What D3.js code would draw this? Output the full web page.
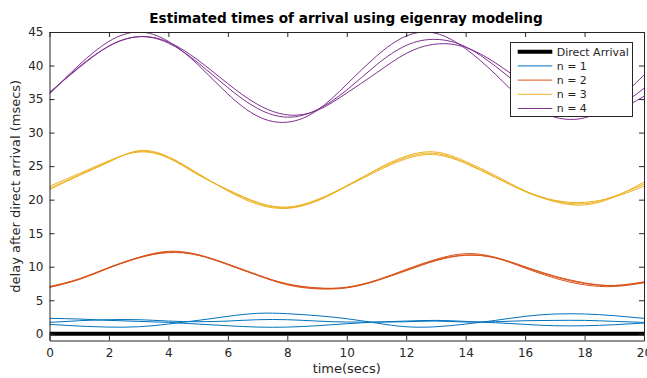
<!DOCTYPE html>
<html>
<head>
<meta charset="utf-8">
<script src="https://cdn.jsdelivr.net/npm/d3@7"></script>
<style>
  body { margin: 0; background: #fff; }
  svg { display: block; font-family: 'DejaVu Sans', sans-serif; }
</style>
</head>
<body>
<div class="chart"></div>
<script>
// sample times (secs)
const time = [0, 1, 2, 3, 4, 5, 6, 7, 8, 9, 10, 11, 12, 13, 14, 15, 16, 17, 18, 19, 20];

const directArrival = time.map(() => 0);

// n = 1 eigenrays
const n1a = [1.4, 1.15, 1.0, 1.05, 1.45, 2.0, 2.6, 3.05, 3.0, 2.7, 2.25, 1.6, 1.05, 1.05, 1.45, 2.0, 2.6, 2.95, 2.95, 2.7, 2.3];
const n1b = [2.3, 2.2, 2.0, 1.85, 1.7, 1.45, 1.2, 1.0, 1.0, 1.2, 1.5, 1.75, 1.9, 2.0, 1.85, 1.65, 1.4, 1.2, 1.2, 1.35, 1.6];
const n1c = [1.7, 1.95, 2.1, 2.1, 1.9, 1.8, 1.9, 2.1, 2.1, 1.9, 1.75, 1.75, 1.8, 1.9, 1.75, 1.8, 1.95, 2.0, 2.0, 1.85, 1.7];

// n = 2 eigenrays
const n2a = [7.0, 8.2, 9.9, 11.4, 12.3, 11.8, 10.4, 8.8, 7.4, 6.8, 6.95, 8.0, 9.6, 11.1, 11.95, 11.4, 9.9, 8.5, 7.5, 7.2, 7.7];
const n2b = [6.9, 8.1, 9.8, 11.3, 12.1, 11.7, 10.3, 8.7, 7.3, 6.7, 6.85, 7.9, 9.5, 11.0, 11.75, 11.3, 9.8, 8.3, 7.3, 7.05, 7.6];
const n2c = [7.05, 8.15, 9.85, 11.35, 12.2, 11.75, 10.35, 8.75, 7.45, 6.85, 6.9, 7.95, 9.4, 10.9, 11.7, 11.35, 10.0, 8.6, 7.6, 7.2, 7.75];

// n = 3 eigenrays
const n3a = [21.5, 23.6, 25.6, 27.3, 26.4, 23.9, 21.3, 19.3, 18.7, 19.8, 22.0, 24.5, 26.5, 27.1, 25.7, 23.6, 21.3, 19.7, 19.2, 20.4, 22.6];
const n3b = [21.7, 23.7, 25.7, 27.2, 26.3, 23.8, 21.4, 19.5, 18.8, 19.9, 22.1, 24.4, 26.3, 26.9, 25.5, 23.4, 21.2, 19.8, 19.4, 20.5, 22.3];
const n3c = [22.0, 23.9, 25.8, 27.1, 26.2, 23.7, 21.5, 19.6, 18.9, 20.0, 22.0, 24.2, 26.1, 26.7, 25.4, 23.3, 21.3, 19.9, 19.6, 20.4, 22.0];

// n = 4 eigenrays
const n4a = [35.75, 40.1, 43.6, 45.0, 43.6, 40.1, 35.75, 32.45, 31.55, 33.3, 37.2, 41.4, 44.4, 44.8, 42.5, 38.7, 34.6, 32.3, 32.2, 34.5, 38.6];
const n4b = [36.0, 39.7, 42.9, 44.3, 43.35, 40.4, 36.7, 33.6, 32.3, 33.4, 36.35, 40.1, 43.0, 43.9, 42.8, 39.9, 36.4, 33.5, 32.5, 33.6, 36.6];
const n4c = [35.9, 39.8, 42.9, 44.3, 43.5, 40.8, 37.3, 34.2, 32.65, 33.3, 35.9, 38.9, 41.8, 43.2, 42.7, 40.4, 37.3, 34.4, 32.8, 33.2, 35.4];

const xTicks = [0, 2, 4, 6, 8, 10, 12, 14, 16, 18, 20];
const yTicks = [0, 5, 10, 15, 20, 25, 30, 35, 40, 45];
const legendLabels = ['Direct Arrival', 'n = 1', 'n = 2', 'n = 3', 'n = 4'];

// matlab default line colours
const colors = ['#000000', '#0072BD', '#D95319', '#EDB120', '#7E2F8E'];

const groups = [
    { color: colors[1], lines: [n1a, n1b, n1c] },
    { color: colors[2], lines: [n2a, n2b, n2c] },
    { color: colors[3], lines: [n3a, n3b, n3c] },
    { color: colors[4], lines: [n4a, n4b, n4c] }
];

const width = 647;
const height = 378;
const axisColor = '#262626';

const x = d3.scaleLinear().domain([0, 20]).range([49.5, 644]);
const y = d3.scaleLinear().domain([-1, 45]).range([340.5, 32]);

const svg = d3.select('.chart')
    .append('svg')
    .attr('width', width)
    .attr('height', height);

svg.append('defs')
    .append('clipPath')
    .attr('id', 'plot-clip')
    .append('rect')
    .attr('x', x(0))
    .attr('y', y(45))
    .attr('width', x(20) - x(0))
    .attr('height', y(-1) - y(45));

const line = d3.line()
    .x((d, i) => x(time[i]))
    .y(d => y(d))
    .curve(d3.curveNatural);

const plot = svg.append('g')
    .attr('clip-path', 'url(#plot-clip)');

plot.append('path')
    .datum(directArrival)
    .attr('d', line)
    .attr('fill', 'none')
    .attr('stroke', colors[0])
    .attr('stroke-width', 4);

groups.forEach(group => {
    plot.append('g')
        .selectAll('path')
        .data(group.lines)
        .enter()
        .append('path')
        .attr('d', line)
        .attr('fill', 'none')
        .attr('stroke', group.color)
        .attr('stroke-width', 1);
});

// axes, ticks pointing inwards like matlab
function styleAxis(g) {
    g.select('.domain').attr('stroke', axisColor);
    g.selectAll('.tick line').attr('stroke', axisColor);
    g.selectAll('.tick text')
        .attr('fill', axisColor)
        .style('font-size', '12px')
        .style('font-family', 'DejaVu Sans');
}

svg.append('g')
    .attr('transform', `translate(0,${y(-1)})`)
    .call(d3.axisBottom(x).tickValues(xTicks).tickSizeInner(-5).tickSizeOuter(0).tickPadding(8))
    .call(styleAxis);

svg.append('g')
    .attr('transform', `translate(0,${y(45)})`)
    .call(d3.axisTop(x).tickValues(xTicks).tickSizeInner(-5).tickSizeOuter(0).tickFormat(''))
    .call(styleAxis);

svg.append('g')
    .attr('transform', `translate(${x(0)},0)`)
    .call(d3.axisLeft(y).tickValues(yTicks).tickSizeInner(-5).tickSizeOuter(0).tickPadding(6))
    .call(styleAxis);

svg.append('g')
    .attr('transform', `translate(${x(20)},0)`)
    .call(d3.axisRight(y).tickValues(yTicks).tickSizeInner(-5).tickSizeOuter(0).tickFormat(''))
    .call(styleAxis);

svg.append('text')
    .attr('x', 346)
    .attr('y', 23)
    .attr('text-anchor', 'middle')
    .attr('fill', '#000')
    .style('font-size', '13.6px')
    .style('font-weight', 'bold')
    .text('Estimated times of arrival using eigenray modeling');

svg.append('text')
    .attr('x', (x(0) + x(20)) / 2)
    .attr('y', 373)
    .attr('text-anchor', 'middle')
    .attr('fill', axisColor)
    .style('font-size', '13px')
    .text('time(secs)');

svg.append('text')
    .attr('transform', `translate(20,${(y(-1) + y(45)) / 2}) rotate(-90)`)
    .attr('text-anchor', 'middle')
    .attr('fill', axisColor)
    .style('font-size', '13px')
    .text('delay after direct arrival (msecs)');

// legend
const legend = svg.append('g');

legend.append('rect')
    .attr('x', 510.5)
    .attr('y', 42.5)
    .attr('width', 122)
    .attr('height', 74)
    .attr('fill', '#fff')
    .attr('stroke', axisColor)
    .attr('stroke-width', 1);

const entry = legend.selectAll('g.entry')
    .data(legendLabels)
    .enter()
    .append('g')
    .attr('class', 'entry')
    .attr('transform', (d, i) => `translate(0,${51.7 + i * 14.2})`);

entry.append('line')
    .attr('x1', 517.7)
    .attr('x2', 552.3)
    .attr('stroke', (d, i) => colors[i])
    .attr('stroke-width', (d, i) => i === 0 ? 4 : 1);

entry.append('text')
    .attr('x', 556.7)
    .attr('dy', '0.35em')
    .attr('fill', axisColor)
    .style('font-size', '11px')
    .text(d => d);
</script>
</body>
</html>
